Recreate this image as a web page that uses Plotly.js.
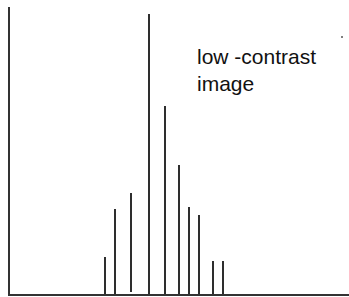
<!DOCTYPE html>
<html>
<head>
<meta charset="utf-8">
<script src="https://cdn.plot.ly/plotly-3.0.1.min.js"></script>
<style>html,body{margin:0;padding:0;background:#fff;}#chart{width:349px;height:297px;}</style>
</head>
<body>
<div id="chart"></div>
<script>
// gray levels (arbitrary units) and counts
const levels = [95, 105, 121, 139, 155, 169, 179, 189, 203, 213];
const counts = [37, 85, 99, 280, 188, 129, 87, 79, 33, 33];
const bases  = [0, 0, 2, 0, 0, 0, 0, 0, 0, 0];
const labelText = "low -contrast<br>image";
const dotX = [332];
const dotY = [257];

const bars = {
  type: 'bar',
  x: levels,
  y: counts,
  base: bases,
  width: 2.2,
  marker: {color: '#2e2e2e', line: {width: 0}},
  hoverinfo: 'skip'
};
const dot = {
  type: 'scatter', mode: 'markers',
  x: dotX, y: dotY,
  marker: {size: 2, color: '#555'},
  hoverinfo: 'skip'
};

const layout = {
  width: 349, height: 297,
  margin: {l: 10, r: 0, t: 7, b: 3, pad: 0},
  paper_bgcolor: '#fff', plot_bgcolor: '#fff',
  showlegend: false,
  bargap: 0,
  xaxis: {range: [0, 339], showline: true, linecolor: '#333', linewidth: 2,
          showgrid: false, zeroline: false, showticklabels: false, ticks: '', fixedrange: true},
  yaxis: {range: [0, 287], showline: true, linecolor: '#333', linewidth: 2,
          showgrid: false, zeroline: false, showticklabels: false, ticks: '', fixedrange: true},
  annotations: [{
    x: 186, y: 250, xref: 'x', yref: 'y', xanchor: 'left', yanchor: 'top',
    text: labelText, showarrow: false, align: 'left',
    font: {family: 'Liberation Sans, Arial, sans-serif', size: 21, color: '#111'},
    borderpad: 0
  }]
};
Plotly.newPlot('chart', [bars, dot], layout, {staticPlot: true, displayModeBar: false});
</script>
</body>
</html>
